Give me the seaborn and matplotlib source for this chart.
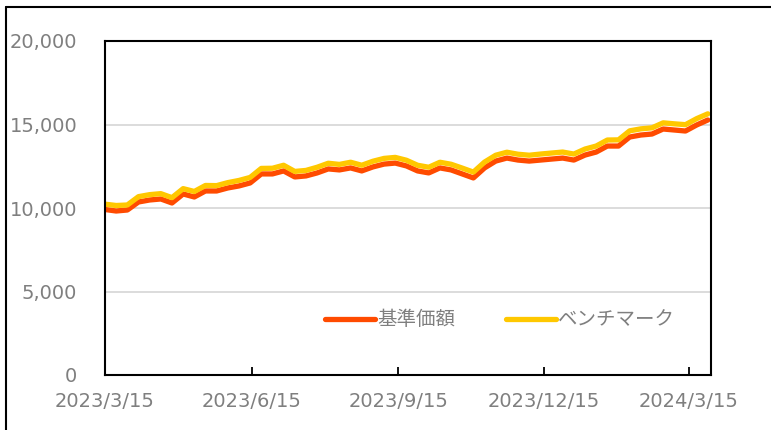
import numpy as np
import pandas as pd
import seaborn as sns
import matplotlib.pyplot as plt
import matplotlib.dates as mdates
from matplotlib.lines import Line2D
from matplotlib.ticker import FuncFormatter

# 週次の日付
dates = pd.date_range("2023-03-15", periods=55, freq="7D")

# 基準価額
nav = [9910, 9820, 9880, 10360, 10480, 10540, 10300, 10840, 10660, 11020,
       11020, 11200, 11320, 11500, 12040, 12040, 12220, 11860, 11920, 12100,
       12340, 12280, 12400, 12220, 12460, 12630, 12690, 12520, 12220, 12100,
       12400, 12280, 12040, 11800, 12400, 12810, 12990, 12870, 12810, 12870,
       12930, 12990, 12870, 13170, 13350, 13710, 13710, 14250, 14370, 14430,
       14730, 14670, 14610, 14970, 15270]

# ベンチマーク
bench = [10230, 10150, 10180, 10680, 10800, 10860, 10620, 11160, 10990, 11350,
         11340, 11520, 11650, 11830, 12370, 12380, 12560, 12190, 12250, 12440,
         12680, 12610, 12740, 12560, 12800, 12970, 13030, 12860, 12560, 12440,
         12740, 12620, 12390, 12150, 12750, 13160, 13340, 13220, 13160, 13230,
         13290, 13350, 13230, 13530, 13710, 14070, 14080, 14620, 14740, 14800,
         15100, 15040, 14990, 15350, 15640]

tick_dates = ["2023-03-15", "2023-06-15", "2023-09-15", "2023-12-15", "2024-03-15"]
tick_labels = ["2023/3/15", "2023/6/15", "2023/9/15", "2023/12/15", "2024/3/15"]
series_names = ["基準価額", "ベンチマーク"]

df = pd.concat([
    pd.DataFrame({"date": dates, "value": nav, "series": series_names[0]}),
    pd.DataFrame({"date": dates, "value": bench, "series": series_names[1]}),
])

sns.set_theme(style="white")
plt.rcParams['font.family'] = ['DejaVu Sans', 'Noto Sans CJK JP']

fig = plt.figure(figsize=(7.71, 4.30), dpi=100)
ax = fig.add_axes([105 / 771, 55 / 430, 606 / 771, 334 / 430])

sns.lineplot(data=df, x="date", y="value", hue="series", ax=ax,
             palette={"基準価額": "#FF4B00", "ベンチマーク": "#FFC800"},
             linewidth=3.8, legend=False)

ax.set_xlim(pd.Timestamp("2023-03-15"), pd.Timestamp("2024-03-29"))
ax.set_ylim(0, 20000)
ax.set_yticks([0, 5000, 10000, 15000, 20000])
ax.yaxis.set_major_formatter(FuncFormatter(lambda v, p: f"{int(v):,}"))
ax.set_xticks(pd.to_datetime(tick_dates))
ax.set_xticklabels(tick_labels)
ax.set_xlabel("")
ax.set_ylabel("")

ax.yaxis.grid(True, color="#D9D9D9", linewidth=1.3)
ax.xaxis.grid(False)
ax.set_axisbelow(True)
for s in ax.spines.values():
    s.set_color("black")
    s.set_linewidth(1.5)

ax.tick_params(axis="y", length=0, pad=20, labelsize=14, labelcolor="#7F7F7F")
ax.tick_params(axis="x", direction="in", length=6, width=1.3, color="black",
               pad=12, labelsize=14, labelcolor="#7F7F7F", bottom=True)

handles = [Line2D([], [], color="#FF4B00", linewidth=3.8),
           Line2D([], [], color="#FFC800", linewidth=3.8)]
leg = ax.legend(handles, series_names, loc="center", bbox_to_anchor=(0.652, 0.165),
                ncol=2, frameon=False, handlelength=2.6, handletextpad=0.1,
                columnspacing=2.6,
                prop={"family": ["Noto Sans CJK JP", "DejaVu Sans"], "size": 14})
for t in leg.get_texts():
    t.set_color("#7F7F7F")

# 外枠（上と左）
fig.add_artist(Line2D([6 / 771, 1], [1 - 7 / 430, 1 - 7 / 430],
                      transform=fig.transFigure, color="black", linewidth=1.5))
fig.add_artist(Line2D([6 / 771, 6 / 771], [0, 1 - 7 / 430],
                      transform=fig.transFigure, color="black", linewidth=1.5))

fig.savefig("out.png", dpi=100)
